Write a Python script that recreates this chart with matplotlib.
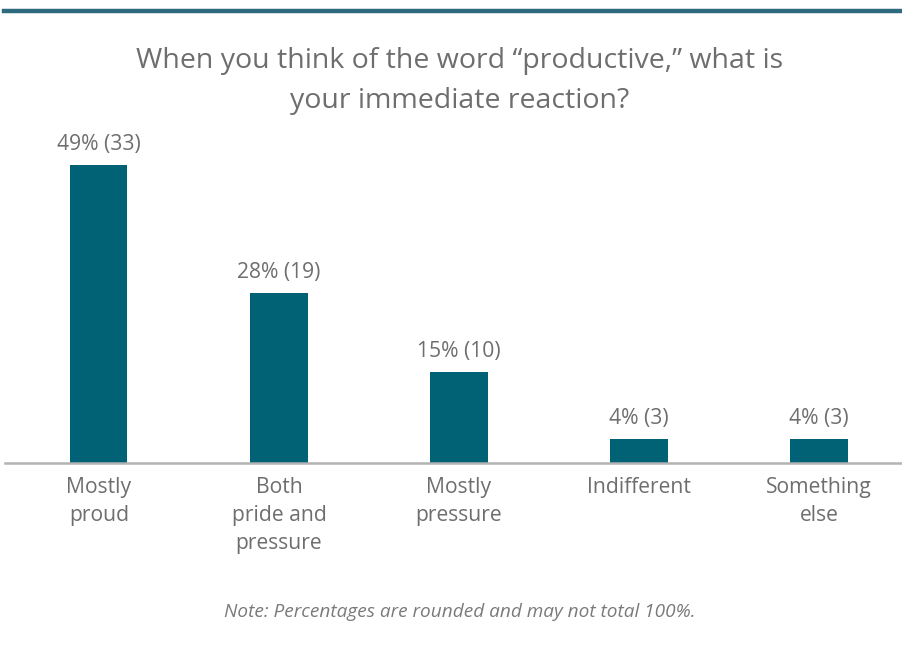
import matplotlib
matplotlib.use("Agg")
import matplotlib.pyplot as plt
from matplotlib.lines import Line2D

categories = ["Mostly\nproud", "Both\npride and\npressure", "Mostly\npressure", "Indifferent", "Something\nelse"]
percents = [49, 28, 15, 4, 4]
counts = [33, 19, 10, 3, 3]

plt.rcParams["font.family"] = ["Open Sans", "DejaVu Sans"]

BAR = "#006274"
GREY = "#6e6e6e"

W, H = 902, 660
fig = plt.figure(figsize=(W / 100, H / 100), dpi=100)

# axes placement in pixel coordinates
left, right = 5, 902
bottom, top = 463, 165
ax = fig.add_axes([left / W, 1 - bottom / H, (right - left) / W, (bottom - 120) / H])

x = list(range(len(categories)))
ax.bar(x, percents, width=0.317, color=BAR)
ax.set_xlim(-0.522, 4.461)
ymax = 49 * (bottom - 120) / (bottom - top)
ax.set_ylim(0, ymax)

for xi, p, c in zip(x, percents, counts):
    ax.annotate(f"{p}% ({c})", (xi, p), xytext=(0, 7), textcoords="offset points",
                ha="center", va="bottom", fontsize=15.2, color=GREY)

ax.set_xticks(x)
ax.set_xticklabels(categories, fontsize=15.2, color=GREY, linespacing=1.45, va="top")
ax.tick_params(axis="x", length=0, pad=10)
ax.set_yticks([])
for s in ["top", "left", "right"]:
    ax.spines[s].set_visible(False)
ax.spines["bottom"].set_color("#b3b3b3")
ax.spines["bottom"].set_linewidth(1.8)

# header rule
fig.add_artist(Line2D([4 / W, 1], [1 - 11 / H, 1 - 11 / H], color="#2d6a7d", linewidth=3.2))

fig.text(460 / W, 1 - 61 / H, "When you think of the word \u201cproductive,\u201d what is",
         ha="center", va="center", fontsize=20.5, color=GREY)
fig.text(460 / W, 1 - 101 / H, "your immediate reaction?",
         ha="center", va="center", fontsize=20.5, color=GREY)

fig.text(460 / W, 1 - 612 / H, "Note: Percentages are rounded and may not total 100%.",
         ha="center", va="center", fontsize=13.7, style="italic", color="#7a7a7a")

fig.savefig("out.png", dpi=100, facecolor="white")
